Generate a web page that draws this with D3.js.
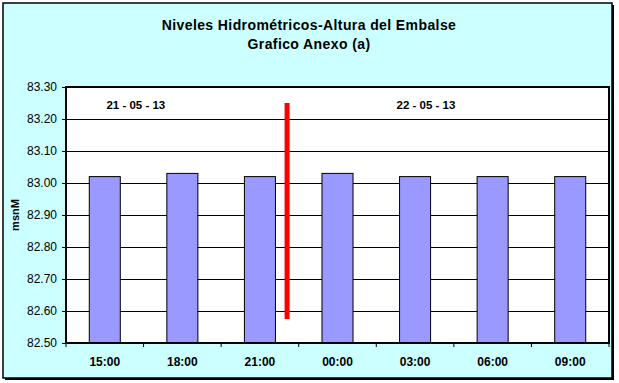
<!DOCTYPE html>
<html><head><meta charset="utf-8">
<script src="https://cdn.jsdelivr.net/npm/d3@7"></script>
<style>html,body{margin:0;padding:0;background:#fff;}svg{display:block;}</style>
</head><body>
<script>
const categories = ["15:00","18:00","21:00","00:00","03:00","06:00","09:00"];
const values = [83.02, 83.03, 83.02, 83.03, 83.02, 83.02, 83.02];
const yTicks = [82.50,82.60,82.70,82.80,82.90,83.00,83.10,83.20,83.30];
const titleLines = ["Niveles Hidrométricos-Altura del Embalse","Grafico Anexo (a)"];
const yLabel = "msnM";
const dateLabels = ["21 - 05 - 13","22 - 05 - 13"];
const dateLabelPos = [0.4, 4.14];      // in category-index units
const dividerPos = [2.35];              // in category-index units
const dividerRange = [82.575, 83.25];

const W = 619, H = 383;
const svg = d3.select("body").append("svg").attr("width", W).attr("height", H);

// outer frame with shadow
svg.append("rect").attr("x",5).attr("y",5).attr("width",609).attr("height",375).attr("fill","#000");
svg.append("rect").attr("x",3).attr("y",3).attr("width",609).attr("height",375)
  .attr("fill","#CCFFFF").attr("stroke","#000").attr("stroke-width",1.5);

const plot = {l:66, r:609, t:87, b:343};
const x = d3.scaleBand().domain(categories).range([plot.l, plot.r]).paddingInner(0.6).paddingOuter(0.3);
const y = d3.scaleLinear().domain([82.5, 83.3]).range([plot.b, plot.t]);
const step = x.step();
const xIdx = i => plot.l + step * (i + 0.5);

svg.append("rect").attr("x",plot.l).attr("y",plot.t).attr("width",plot.r-plot.l).attr("height",plot.b-plot.t).attr("fill","#fff");

// gridlines
svg.append("g").selectAll("line").data(yTicks.slice(1,-1)).join("line")
  .attr("x1",plot.l).attr("x2",plot.r).attr("y1",d=>Math.round(y(d))+0.5).attr("y2",d=>Math.round(y(d))+0.5)
  .attr("stroke","#000").attr("stroke-width",1);

// bars
svg.append("g").selectAll("rect").data(values).join("rect")
  .attr("x",(d,i)=>x(categories[i])).attr("width",x.bandwidth())
  .attr("y",d=>y(d)).attr("height",d=>plot.b-y(d))
  .attr("fill","#9999FF").attr("stroke","#000").attr("stroke-width",1);

// divider
svg.append("g").selectAll("line").data(dividerPos).join("line")
  .attr("x1",d=>xIdx(d)).attr("x2",d=>xIdx(d))
  .attr("y1",y(dividerRange[1])).attr("y2",y(dividerRange[0]))
  .attr("stroke","#FF0000").attr("stroke-width",5);

// plot border
svg.append("rect").attr("x",plot.l).attr("y",plot.t).attr("width",plot.r-plot.l).attr("height",plot.b-plot.t)
  .attr("fill","none").attr("stroke","#000").attr("stroke-width",2);

// y axis
const yAxis = d3.axisLeft(y).tickValues(yTicks).tickFormat(d3.format(".2f")).tickSize(4).tickPadding(5);
const gy = svg.append("g").attr("transform",`translate(${plot.l},0)`).call(yAxis);
gy.select(".domain").remove();
gy.selectAll("line").attr("stroke","#000");
gy.selectAll("text").attr("font-family","Arial, 'Liberation Sans', sans-serif").attr("font-size","12px").attr("fill","#000");

// x axis
const xAxis = d3.axisBottom(x).tickSize(0).tickPadding(0);
const gx = svg.append("g").attr("transform",`translate(0,${plot.b})`).call(xAxis);
gx.select(".domain").remove();
gx.selectAll("text").attr("font-family","Arial, 'Liberation Sans', sans-serif").attr("font-size","12px")
  .attr("font-weight","bold").attr("fill","#000").attr("dy",null).attr("y",23);
// category boundary ticks
svg.append("g").selectAll("line").data(d3.range(categories.length+1)).join("line")
  .attr("x1",i=>plot.l+i*step).attr("x2",i=>plot.l+i*step).attr("y1",plot.b).attr("y2",plot.b+4)
  .attr("stroke","#000");

// date labels
svg.append("g").selectAll("text").data(dateLabels).join("text")
  .attr("x",(d,i)=>xIdx(dateLabelPos[i])).attr("y",plot.t+22).attr("text-anchor","middle")
  .attr("font-family","Arial, 'Liberation Sans', sans-serif").attr("font-size","11.5px").attr("font-weight","bold")
  .text(d=>d);

// title
svg.append("g").selectAll("text").data(titleLines).join("text")
  .attr("x",309).attr("y",(d,i)=>30+i*19).attr("text-anchor","middle")
  .attr("font-family","Arial, 'Liberation Sans', sans-serif").attr("font-size","14px").attr("font-weight","bold")
  .attr("letter-spacing","0.4px")
  .text(d=>d);

// y label
svg.append("text").attr("transform",`translate(19,${(plot.t+plot.b)/2}) rotate(-90)`).attr("text-anchor","middle")
  .attr("font-family","Arial, 'Liberation Sans', sans-serif").attr("font-size","11px").attr("font-weight","bold")
  .text(yLabel);
</script>
</body></html>
